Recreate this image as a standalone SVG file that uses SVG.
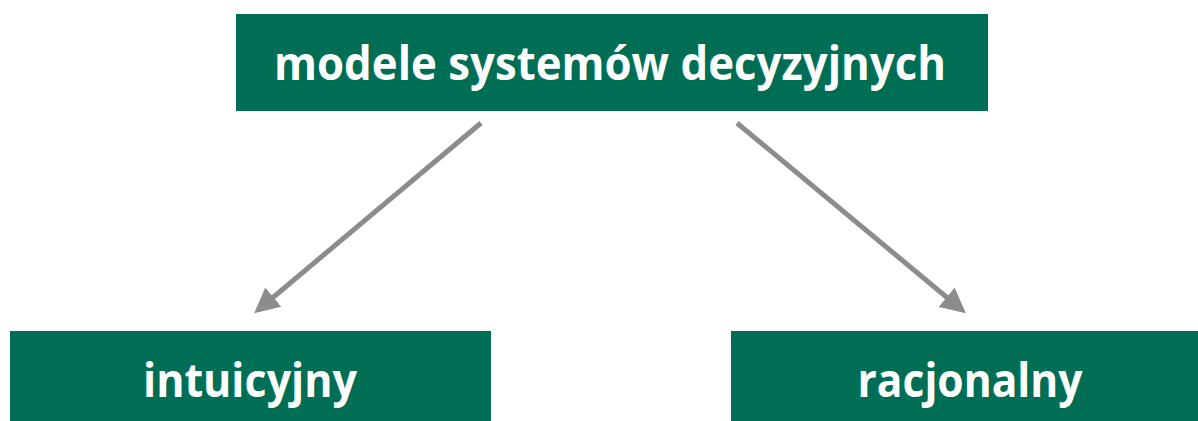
<svg xmlns="http://www.w3.org/2000/svg" width="1198" height="421" viewBox="0 0 1198 421">
  <defs>
    <style>
      .box { fill: #006e55; }
      .label { fill: #ffffff; font-family: "Open Sans", "Liberation Sans", sans-serif; font-weight: bold; text-anchor: middle; }
      .conn { stroke: #8c8c8c; stroke-width: 5; fill: none; marker-end: url(#head); }
    </style>
    <marker id="head" viewBox="0 0 10 10" refX="8" refY="5" markerWidth="5" markerHeight="5" orient="auto" markerUnits="strokeWidth">
      <path d="M0,0 L10,5 L0,10 Z" fill="#8c8c8c"/>
    </marker>
  </defs>

  <g id="connectors">
    <line class="conn" x1="481" y1="123" x2="258" y2="310"/>
    <line class="conn" x1="737" y1="123" x2="962" y2="310"/>
  </g>

  <g id="node-root">
    <rect class="box" x="236" y="14" width="752" height="97"/>
    <text class="label" x="610" y="80" font-size="46" textLength="672" lengthAdjust="spacingAndGlyphs">modele systemów decyzyjnych</text>
  </g>

  <g id="node-intuicyjny">
    <rect class="box" x="10" y="331" width="481" height="90"/>
    <text class="label" x="250" y="397" font-size="46" textLength="214" lengthAdjust="spacingAndGlyphs">intuicyjny</text>
  </g>

  <g id="node-racjonalny">
    <rect class="box" x="731" y="331" width="467" height="90"/>
    <text class="label" x="970" y="397" font-size="46" textLength="225" lengthAdjust="spacingAndGlyphs">racjonalny</text>
  </g>
</svg>
